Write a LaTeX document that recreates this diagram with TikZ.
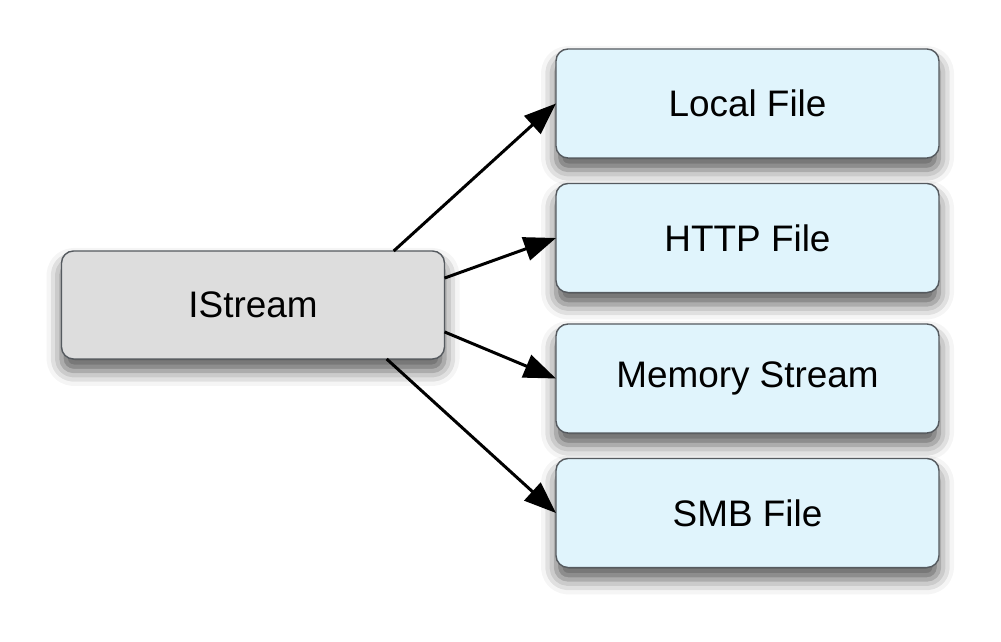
\documentclass[tikz,border=0pt]{standalone}
\usepackage{fontspec}
\setmainfont{Liberation Sans}
\usepackage{tikz}
\usetikzlibrary{arrows.meta, shapes, shadows.blur}
\definecolor{basegray}{RGB}{221, 221, 221}
\definecolor{implblue}{RGB}{224, 244, 252}
\definecolor{edgegray}{RGB}{85, 90, 95}

\begin{document}
\begin{tikzpicture}[
        box/.style={draw=edgegray, line width=0.8pt, rounded corners=0.24cm,
            minimum width=7.66cm, minimum height=2.18cm, inner sep=0pt, outer sep=0pt,
            font=\fontsize{21}{25}\selectfont,
            blur shadow={shadow xshift=0pt, shadow yshift=-0.24cm, shadow blur radius=0.3cm, shadow opacity=65}},
        iface/.style={box, fill=basegray, minimum height=2.16cm},
        impl/.style={box, fill=implblue},
        link/.style={-{Triangle[length=0.64cm, width=0.48cm]}, line width=1.7pt, black}
    ]
        \useasboundingbox (0, 0) rectangle (20.02, 12.84);

        % 接口 IStream
        \node[iface] (istream) at (5.06, 6.74) {IStream};

        % 实现
        \node[impl] (local) at (14.95, 10.77) {Local File};
        \node[impl] (http) at (14.95, 8.08) {HTTP File};
        \node[impl] (memory) at (14.95, 5.27) {Memory Stream};
        \node[impl] (smb) at (14.95, 2.58) {SMB File};

        % 箭头
        \draw[link] (istream.21.8) -- (local.west);
        \draw[link] (istream.8) -- (http.west);
        \draw[link] (istream.-8.9) -- (memory.west);
        \draw[link] (istream.-22.2) -- (smb.west);

    \end{tikzpicture}
\end{document}
